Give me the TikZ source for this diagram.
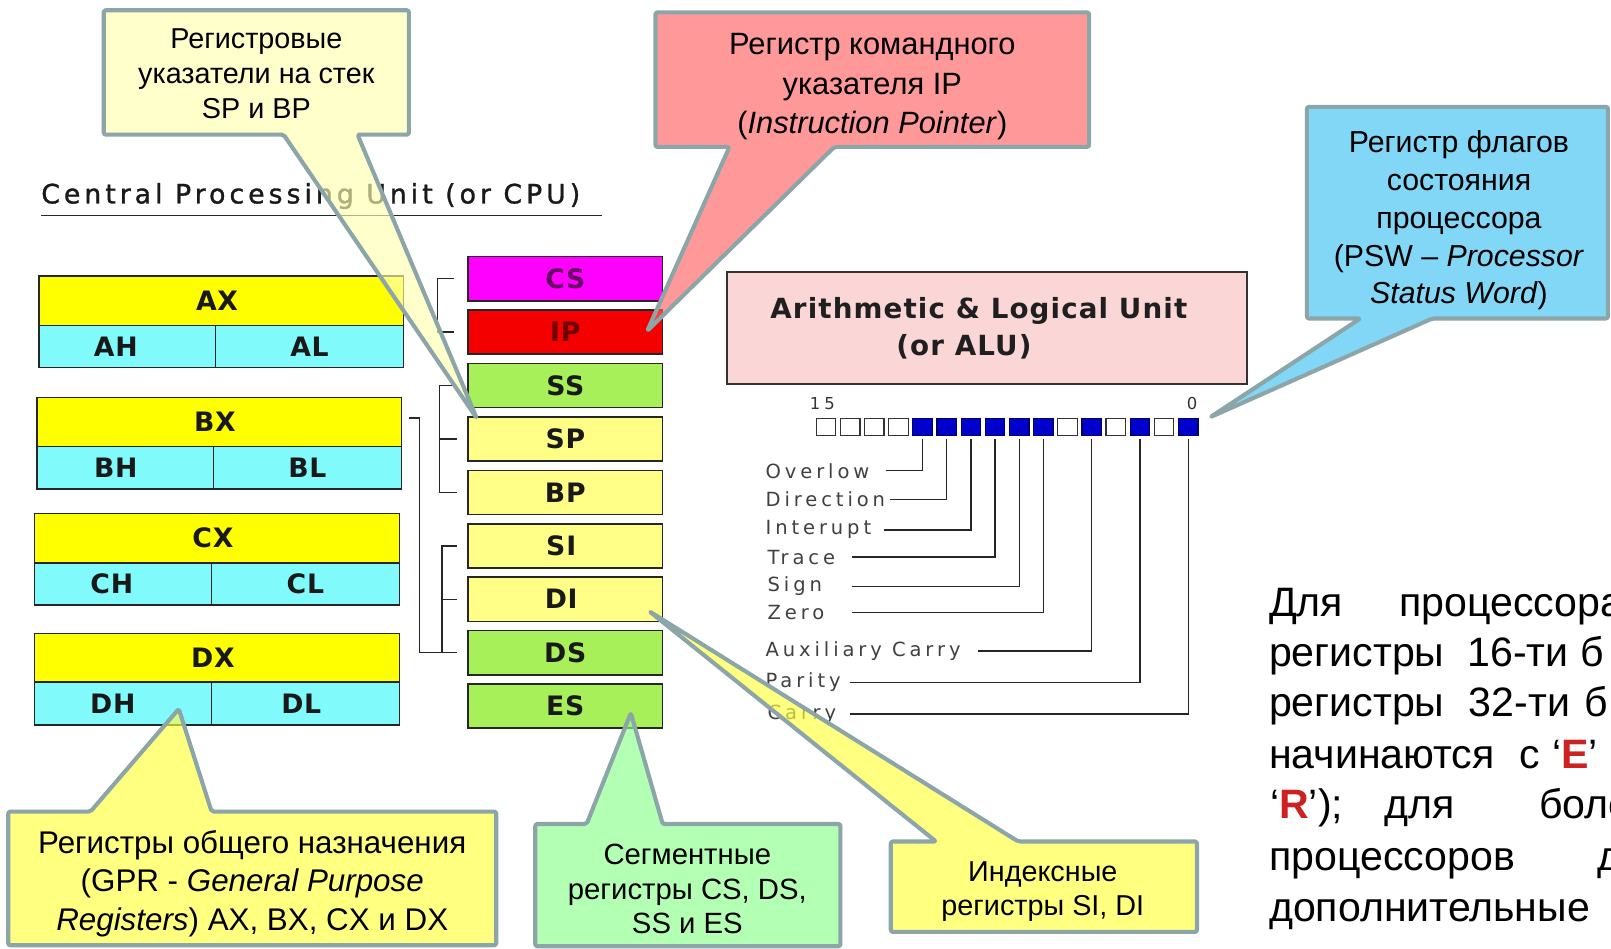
\documentclass[tikz,border=0pt]{standalone}
\usepackage{fontspec}
\setmainfont{Liberation Sans}
\newfontfamily\pixfont{DejaVu Sans}
\usetikzlibrary{calc}
\definecolor{cborder}{RGB}{140,165,168}
\definecolor{regY}{RGB}{255,255,0}
\definecolor{regC}{RGB}{128,250,250}
\definecolor{segG}{RGB}{168,240,90}
\definecolor{ptrY}{RGB}{255,255,136}
\definecolor{csM}{RGB}{255,0,255}
\definecolor{ipR}{RGB}{245,0,0}
\definecolor{aluP}{RGB}{250,214,214}
\definecolor{bitB}{RGB}{0,0,204}
\definecolor{cfA}{RGB}{255,255,177}
\definecolor{cfB}{RGB}{255,98,98}
\definecolor{cfC}{RGB}{63,192,241}
\definecolor{cfD}{RGB}{255,255,60}
\definecolor{cfE}{RGB}{138,255,138}
\definecolor{hlred}{RGB}{204,34,34}
\newcommand\myreg{\pixfont\bfseries\fontsize{26}{30}\selectfont\addfontfeature{LetterSpace=3}}
\newcommand\myflag{\pixfont\fontsize{19}{22}\selectfont\addfontfeature{LetterSpace=20}}
\newcommand\mytitle{\pixfont\fontsize{26}{30}\selectfont\addfontfeature{FakeBold=1.2,LetterSpace=15}}
\newcommand\myalu{\pixfont\bfseries\fontsize{27}{35.7}\selectfont\addfontfeature{LetterSpace=4}}
\newcommand\putw[2]{\makebox[0pt][l]{\hspace*{#1pt}#2}}
\begin{document}
\begin{tikzpicture}[x=1pt,y=-1pt,
  reg/.style={draw=black!85, line width=1.5pt, inner sep=0pt, anchor=north west, font=\myreg, text=black!90},
  gpy/.style={reg, fill=regY, minimum width=355pt, minimum height=48pt},
  gph/.style={reg, fill=regC, minimum width=172pt, minimum height=41pt},
  gpl/.style={reg, fill=regC, minimum width=183pt, minimum height=41pt},
  seg/.style={reg, minimum width=189pt, minimum height=43pt},
  brk/.style={draw=black!85, line width=1.4pt},
  bit/.style={draw=black!80, line width=1.2pt, minimum width=19pt, minimum height=17pt, inner sep=0pt},
  bitw/.style={bit, fill=white},
  bitb/.style={bit, fill=bitB, draw=bitB!50!black},
  flag/.style={anchor=base west, inner sep=0pt, font=\myflag, text=black!75},
  flagln/.style={draw=black!85, line width=1.3pt},
  callout/.style={draw=cborder, line width=4pt, line join=round, rounded corners=2pt, fill opacity=0.65},
  ctext/.style={anchor=base, align=center, inner sep=0pt, text=black},
  rtext/.style={anchor=base west, inner sep=0pt, font=\fontsize{40}{49}\selectfont, text=black}
]
\useasboundingbox (0,0) rectangle (1568,923);
\clip (0,0) rectangle (1568,923);

% title
\node[anchor=base west, inner sep=0pt, font=\mytitle, text=black!90] (title) at (40,198) {Central Processing Unit (or CPU)};
\draw[line width=1.3pt, black!85] ([yshift=-12pt]title.base west) -- ++(546,0);

% general purpose registers
\node[gpy] (ax) at (37,268) {\hspace*{-8pt}AX};
\node[gph] (ah) at (37,316) {\hspace*{-22pt}AH};
\node[gpl] (al) at (209,316) {AL};
\node[gpy] (bx) at (35,386) {\hspace*{-8pt}BX};
\node[gph] (bh) at (35,434) {\hspace*{-18pt}BH};
\node[gpl] (bl) at (207,434) {BL};
\node[gpy] (cx) at (33,499) {\hspace*{-8pt}CX};
\node[gph] (ch) at (33,547) {\hspace*{-22pt}CH};
\node[gpl] (cl) at (205,547) {CL};
\node[gpy, minimum height=47pt] (dx) at (33,616) {\hspace*{-8pt}DX};
\node[gph, minimum height=42pt] (dh) at (33,663) {\hspace*{-20pt}DH};
\node[gpl, minimum height=42pt] (dl) at (205,663) {\hspace*{-8pt}DL};

% segment / pointer / index registers
\node[seg, fill=csM, text=black!60!csM] (cs) at (455,249) {CS};
\node[seg, fill=ipR, text=black!55!ipR] (ip) at (455,301) {IP};
\node[seg, fill=segG] (ss) at (455,353) {SS};
\node[seg, fill=ptrY] (sp) at (455,405) {SP};
\node[seg, fill=ptrY] (bp) at (455,457) {BP};
\node[seg, fill=ptrY] (si) at (455,509) {\hspace*{-8pt}SI};
\node[seg, fill=ptrY] (di) at (455,561) {\hspace*{-8pt}DI};
\node[seg, fill=segG] (ds) at (455,613) {DS};
\node[seg, fill=segG] (es) at (455,665) {ES};

% brackets
\draw[brk] ([xshift=-13pt]cs.west) -- ++(-16,0) |- ([xshift=-13pt]ip.west);
\draw[brk] ([xshift=-10pt]ss.west) -- ++(-17,0) |- ([xshift=-10pt]bp.west);
\draw[brk] ([xshift=-10pt]sp.west) -- ++(-17,0);
\draw[brk] ([xshift=-10pt]si.west) -- ++(-15,0) |- ([xshift=-10pt]ds.west);
\draw[brk] ([xshift=-10pt]di.west) -- ++(-15,0);
\draw[brk] ([xshift=7pt,yshift=4pt]bx.east) -- ++(10,0) |- ([xshift=-10pt]ds.west);

% ALU
\node[draw=black!80, line width=1.5pt, fill=aluP, anchor=north west, minimum width=506pt, minimum height=109pt, inner sep=0pt, align=center, font=\myalu, text=black!88] (alu) at (707,264)
  {Arithmetic \& Logical Unit\hspace*{16pt}\\(or ALU)\hspace*{45pt}};

% flag bits
\node[anchor=base west, inner sep=0pt, font=\pixfont\fontsize{16}{18}\selectfont\addfontfeature{LetterSpace=25}, text=black!80] (n15) at (788,399) {15};
\node[anchor=base west, inner sep=0pt, font=\pixfont\fontsize{16}{18}\selectfont, text=black!80] (n0) at (1155,399) {0};
\foreach \i/\s in {0/bitw,1/bitw,2/bitw,3/bitw,4/bitb,5/bitb,6/bitb,7/bitb,8/bitb,9/bitb,10/bitw,11/bitb,12/bitw,13/bitb,14/bitw,15/bitb}
  \node[\s] (b\i) at ({804+23.5*\i},415.5) {};

% flag labels and leaders
\node[flag] (fOF) at (745,465.3) {Overlow};
\node[flag] (fDF) at (745,493) {Direction};
\node[flag] (fIF) at (745,520.7) {Interupt};
\node[flag] (fTF) at (747,549) {Trace};
\node[flag] (fSF) at (747,576) {Sign};
\node[flag] (fZF) at (747,603) {Zero};
\node[flag] (fAF) at (745,639) {Auxiliary Carry};
\node[flag] (fPF) at (745,669.3) {Parity};
\node[flag] (fCF) at (747,700) {Carry};
\draw[flagln] (fOF.east -| 862,0) -| ([yshift=-3pt]b4.south);
\draw[flagln] (fDF.east -| 866,0) -| ([yshift=-3pt]b5.south);
\draw[flagln] (fIF.east -| 860,0) -| ([yshift=-3pt]b6.south);
\draw[flagln] (fTF.east -| 829,0) -| ([yshift=-3pt]b7.south);
\draw[flagln] (fSF.east -| 829,0) -| ([yshift=-3pt]b8.south);
\draw[flagln] (fZF.east -| 829,0) -| ([yshift=-3pt]b9.south);
\draw[flagln] (fAF.east -| 952,0) -| ([yshift=-3pt]b11.south);
\draw[flagln] (fPF.east -| 827,0) -| ([yshift=-3pt]b13.south);
\draw[flagln] (fCF.east -| 827,0) -| ([yshift=-3pt]b15.south);

% right-hand paragraph (cut at the edge, as in the reference)
\node[rtext] (r1) at (1234.5,600) {\putw{0}{Для}\putw{126.5}{процессора}};
\node[rtext] (r2) at (1234.5,649) {\putw{0}{регистры}\putw{193}{16-ти}\putw{303}{б}};
\node[rtext] (r3) at (1234.5,697.6) {\putw{0}{регистры}\putw{194.5}{32-ти}\putw{307}{б}};
\node[rtext] (r4) at (1234.5,747.8) {\putw{0}{начинаются}\putw{243.3}{с}\putw{275.5}{‘\textcolor{hlred}{\bfseries E}’}};
\node[rtext] (r5) at (1234.5,796.5) {\putw{1}{‘\textcolor{hlred}{\bfseries R}’);}\putw{112}{для}\putw{263}{боле}};
\node[rtext] (r6) at (1234.5,846.8) {\putw{0}{процессоров}\putw{319.5}{д}};
\node[rtext] (r7) at (1234.5,897.1) {\putw{0}{дополнительные}};

% callouts
\path[callout, fill=cfA] (101,10) -- (398,10) -- (398,131) -- (348,131) -- (464,407) -- (276,131) -- (101,131) -- cycle;
\path[callout, fill=cfB] (638,12) -- (1060,12) -- (1060,143) -- (812,143) -- (630,322) -- (710,143) -- (638,143) -- cycle;
\path[callout, fill=cfC] (1272,104) -- (1565,104) -- (1565,310) -- (1394,310) -- (1178,406) -- (1324,310) -- (1272,310) -- cycle;
\path[callout, fill=cfD] (8,790) -- (88,790) -- (174,690) -- (206,790) -- (483,790) -- (483,920) -- (8,920) -- cycle;
\path[callout, fill=cfE] (521,802) -- (571,802) -- (614,694) -- (645,802) -- (818,802) -- (818,921) -- (521,921) -- cycle;
\path[callout, fill=cfD] (867,819) -- (911,819) -- (632,595) -- (991,819) -- (1165,819) -- (1165,907) -- (867,907) -- cycle;

% callout texts (base anchor = baseline of the last line)
\node[ctext, font=\fontsize{28}{34}\selectfont] (t1) at (249.5,115.5) {Регистровые\\указатели на стек\\SP и BP};
\node[ctext, font=\fontsize{30}{38.3}\selectfont] (t2) at (849,130.1) {Регистр командного\\указателя IP\\(\textit{Instruction Pointer})};
\node[ctext, font=\fontsize{29.5}{36.8}\selectfont] (t3) at (1420,295.8) {Регистр флагов\\состояния\\процессора\\(PSW – \textit{Processor}\\\textit{Status Word})};
\node[ctext, font=\fontsize{30.5}{37.3}\selectfont] (t4) at (245.5,905.2) {Регистры общего назначения\\(GPR - \textit{General Purpose}\\\textit{Registers}) AX, BX, CX и DX};
\node[ctext, font=\fontsize{28.5}{34}\selectfont] (t5) at (669,909) {Сегментные\\регистры CS, DS,\\SS и ES};
\node[ctext, font=\fontsize{28}{33}\selectfont] (t6) at (1015,891) {Индексные\\регистры SI, DI};
\end{tikzpicture}
\end{document}
